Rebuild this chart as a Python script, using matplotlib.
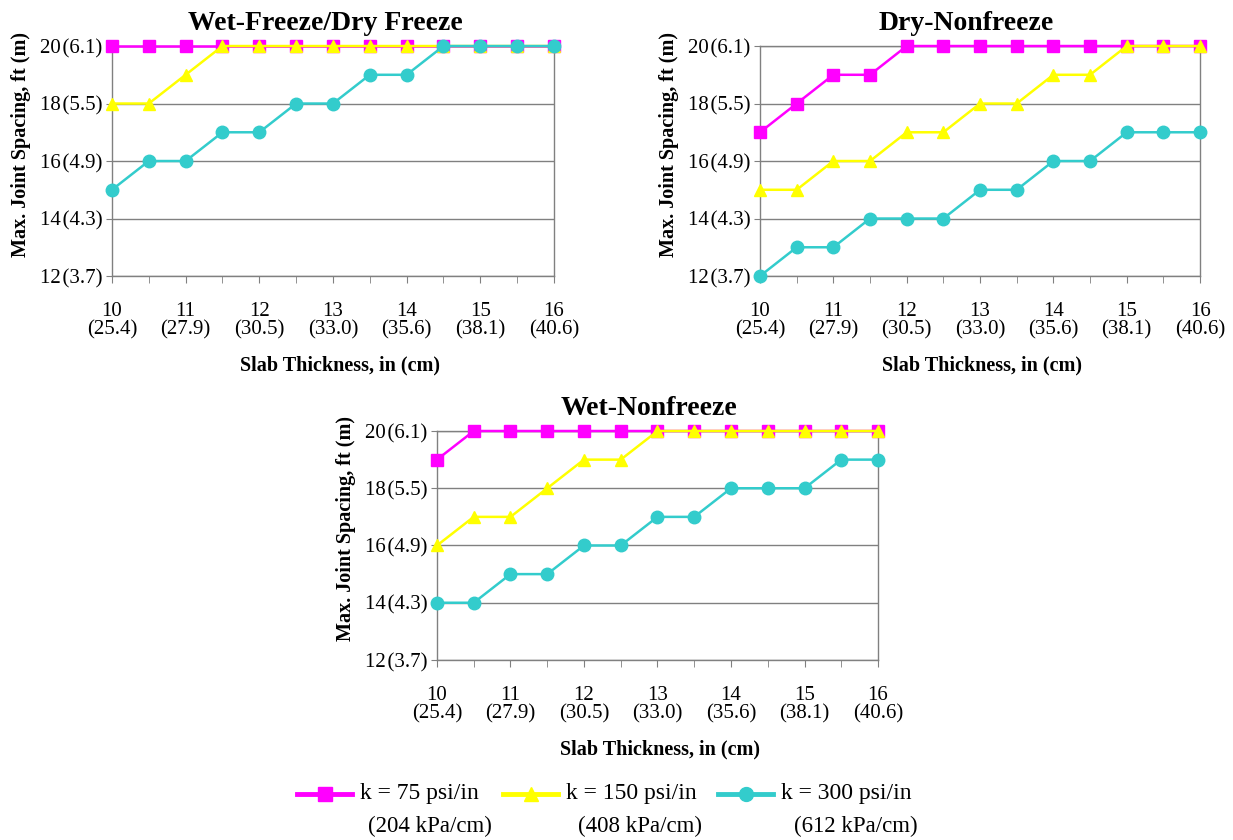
import matplotlib.pyplot as plt
from matplotlib.lines import Line2D
from matplotlib.ticker import MultipleLocator

plt.rcParams['font.family'] = ['Liberation Serif', 'DejaVu Serif']

# slab thickness, in
thickness = [10, 10.5, 11, 11.5, 12, 12.5, 13, 13.5, 14, 14.5, 15, 15.5, 16]
x_major = [10, 11, 12, 13, 14, 15, 16]
x_labels = ["10\n(25.4)", "11\n(27.9)", "12\n(30.5)", "13\n(33.0)",
            "14\n(35.6)", "15\n(38.1)", "16\n(40.6)"]
y_major = [12, 14, 16, 18, 20]
y_labels = ["12\u200a(3.7)", "14\u200a(4.3)", "16\u200a(4.9)", "18\u200a(5.5)",
            "20\u200a(6.1)"]

# max joint spacing, ft
wet_freeze_k75 = [20, 20, 20, 20, 20, 20, 20, 20, 20, 20, 20, 20, 20]
wet_freeze_k150 = [18, 18, 19, 20, 20, 20, 20, 20, 20, 20, 20, 20, 20]
wet_freeze_k300 = [15, 16, 16, 17, 17, 18, 18, 19, 19, 20, 20, 20, 20]

dry_nonfreeze_k75 = [17, 18, 19, 19, 20, 20, 20, 20, 20, 20, 20, 20, 20]
dry_nonfreeze_k150 = [15, 15, 16, 16, 17, 17, 18, 18, 19, 19, 20, 20, 20]
dry_nonfreeze_k300 = [12, 13, 13, 14, 14, 14, 15, 15, 16, 16, 17, 17, 17]

wet_nonfreeze_k75 = [19, 20, 20, 20, 20, 20, 20, 20, 20, 20, 20, 20, 20]
wet_nonfreeze_k150 = [16, 17, 17, 18, 19, 19, 20, 20, 20, 20, 20, 20, 20]
wet_nonfreeze_k300 = [14, 14, 15, 15, 16, 16, 17, 17, 18, 18, 18, 19, 19]

series_names = ["k = 75 psi/in", "k = 150 psi/in", "k = 300 psi/in"]
series_metric = ["(204 kPa/cm)", "(408 kPa/cm)", "(612 kPa/cm)"]
colors = ["#FF00FF", "#FFFF00", "#33CCCC"]
markers = ["s", "^", "o"]

# title, series, axes rect, title x, x-label x, y-label y (axes fractions)
panels = [
    ("Wet-Freeze/Dry Freeze", [wet_freeze_k75, wet_freeze_k150, wet_freeze_k300],
     [0.0908, 0.6714, 0.3585, 0.2738], 0.482, 0.516, 0.57),
    ("Dry-Nonfreeze", [dry_nonfreeze_k75, dry_nonfreeze_k150, dry_nonfreeze_k300],
     [0.6164, 0.6714, 0.3569, 0.2738], 0.468, 0.505, 0.57),
    ("Wet-Nonfreeze", [wet_nonfreeze_k75, wet_nonfreeze_k150, wet_nonfreeze_k300],
     [0.3544, 0.2143, 0.3577, 0.2726], 0.481, 0.505, 0.576),
]

fig = plt.figure(figsize=(12.33, 8.4), dpi=100)

for title, data, rect, title_x, xlab_x, ylab_y in panels:
    ax = fig.add_axes(rect)
    for vals, c, m in zip(data, colors, markers):
        ax.plot(thickness, vals, color=c, marker=m, markersize=9, lw=1.8,
                clip_on=False, zorder=3)
    ax.set_xlim(10, 16)
    ax.set_ylim(12, 20)
    ax.set_xticks(x_major)
    ax.set_xticklabels(x_labels, fontsize=15, linespacing=0.9)
    ax.xaxis.set_minor_locator(MultipleLocator(0.5))
    ax.set_yticks(y_major)
    ax.set_yticklabels(y_labels, fontsize=15)
    ax.tick_params(axis='x', which='both', direction='out', length=5,
                   color='#808080', pad=14)
    ax.tick_params(axis='y', direction='out', length=4, color='#808080', pad=3)
    ax.grid(axis='y', color='#808080', lw=1)
    ax.set_axisbelow(True)
    for s in ax.spines.values():
        s.set_color('#808080')
        s.set_linewidth(1)
    ax.text(title_x, 1.1, title, transform=ax.transAxes, ha='center',
            va='center', fontsize=20, fontweight='bold')
    ax.set_xlabel("Slab Thickness, in (cm)", fontsize=14.5, fontweight='bold',
                  labelpad=12)
    ax.set_ylabel("Max. Joint Spacing, ft (m)", fontsize=14.5, fontweight='bold',
                  labelpad=6)
    ax.xaxis.label.set_x(xlab_x)
    ax.yaxis.label.set_y(ylab_y)

# legend drawn by hand: sample line, name, and metric unit on a second row
handle_x = [297, 503, 718]
metric_x = [430, 640, 856]
for hx, mx, c, m, name, metric in zip(handle_x, metric_x, colors, markers,
                                       series_names, series_metric):
    x0, x1 = hx / 1233, (hx + 55) / 1233
    y = 1 - 794 / 840
    fig.add_artist(Line2D([x0, x1], [y, y], color=c, lw=3.5,
                          transform=fig.transFigure))
    fig.add_artist(Line2D([(x0 + x1) / 2], [y], color=c, marker=m,
                          markersize=10, transform=fig.transFigure))
    fig.text(x1 + 8 / 1233, y, name, ha='left', va='center', fontsize=17)
    fig.text(mx / 1233, 1 - 826 / 840, metric, ha='center', va='center',
             fontsize=16.5)

fig.savefig("out.png", dpi=100)
